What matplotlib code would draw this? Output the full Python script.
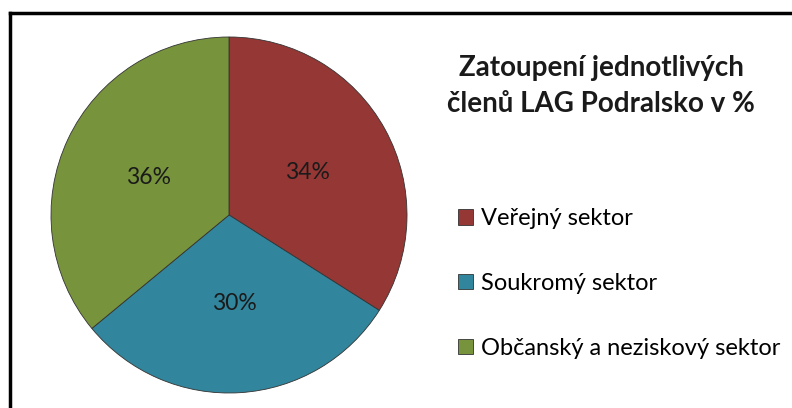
import matplotlib
matplotlib.use('Agg')
import matplotlib.pyplot as plt
from matplotlib.lines import Line2D

# data
sectors = ['Veřejný sektor', 'Soukromý sektor', 'Občanský a neziskový sektor']
shares = [34, 30, 36]
colors = ['#953735', '#31859C', '#77933C']
title = 'Zatoupení jednotlivých\nčlenů LAG Podralsko v %'

plt.rcParams['font.family'] = ['Lato', 'DejaVu Sans']

W, H = 792, 408
fig = plt.figure(figsize=(W / 100, H / 100), dpi=100)

# pie axes: centre (229, 215) px, radius 178 px
cx, cy, r = 229, 215, 178
ax = fig.add_axes([(cx - r) / W, (H - cy - r) / H, 2 * r / W, 2 * r / H])
wedges, texts, autotexts = ax.pie(
    shares, colors=colors, startangle=90, counterclock=False,
    autopct='%d%%', pctdistance=0.5,
    wedgeprops=dict(edgecolor='#333333', linewidth=0.6),
    textprops=dict(fontsize=16.5, color='#1a1a1a'))
ax.set_xlim(-1, 1)
ax.set_ylim(-1, 1)
ax.set_aspect('equal')
ax.axis('off')

fig.text(601 / W, 1 - 86 / H, title, ha='center', va='center',
         fontsize=20, fontweight='bold', linespacing=1.45, color='#1a1a1a')

fig.legend(wedges, sectors, loc='upper left',
           bbox_to_anchor=(449 / W, 1 - 199 / H), frameon=False,
           fontsize=17, handlelength=0.62, handleheight=0.62,
           handletextpad=0.33, labelspacing=1.85, borderaxespad=0)

# outer frame, only top and left edges visible in the crop
fig.add_artist(Line2D([9.5 / W, 1.02], [1 - 12.5 / H, 1 - 12.5 / H],
                      color='black', lw=2.5, transform=fig.transFigure))
fig.add_artist(Line2D([9.5 / W, 9.5 / W], [1 - 12.5 / H, -0.05],
                      color='black', lw=2.5, transform=fig.transFigure))

fig.savefig('out.png', dpi=100)
